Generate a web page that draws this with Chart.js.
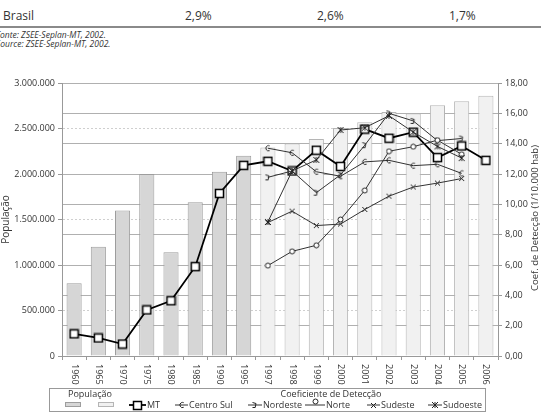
<!DOCTYPE html>
<html>
<head>
  <title>MT - População e Coeficiente de Detecção</title>
  <script src="https://cdn.jsdelivr.net/npm/chart.js"></script>
  <style>
    body {
      margin: 0;
      background: #fff;
      font-family: "Open Sans", sans-serif;
      color: #333;
    }
    .page {
      position: relative;
      width: 541px;
      height: 415px;
      overflow: hidden;
    }
    .head {
      position: absolute;
      top: 8px;
      font-size: 12px;
      line-height: 16px;
    }
    .rule {
      position: absolute;
      left: 0;
      top: 26px;
      width: 541px;
      height: 2px;
      background: #8a8a8a;
    }
    .fonte {
      position: absolute;
      left: -4px;
      font-size: 8.5px;
      font-style: italic;
      line-height: 10px;
    }
    .chart-box {
      position: absolute;
      left: 0;
      top: 0;
      width: 541px;
      height: 415px;
    }
  </style>
</head>
<body>
  <div class="page">
    <div class="head" style="left:3px">Brasil</div>
    <div class="head" style="left:185px">2,9%</div>
    <div class="head" style="left:317px">2,6%</div>
    <div class="head" style="left:449px">1,7%</div>
    <div class="rule"></div>
    <div class="fonte" style="top:30px">Fonte: ZSEE-Seplan-MT, 2002.</div>
    <div class="fonte" style="top:39px">Source: ZSEE-Seplan-MT, 2002.</div>
    <div class="chart-box"><canvas id="grafico"></canvas></div>
  </div>

  <script>
    const anos = ['1960', '1965', '1970', '1975', '1980', '1985', '1990', '1995', '1997', '1998',
                  '1999', '2000', '2001', '2002', '2003', '2004', '2005', '2006'];

    // população (eixo esquerdo)
    const popAntes = [800000, 1200000, 1600000, 2000000, 1140000, 1690000, 2025000, 2200000,
                      null, null, null, null, null, null, null, null, null, null];
    const popDepois = [null, null, null, null, null, null, null, null,
                       2290000, 2335000, 2385000, 2505000, 2570000, 2680000, 2665000, 2755000, 2800000, 2860000];

    // coeficiente de detecção (eixo direito)
    const coefMT = [1.46, 1.19, 0.79, 3.04, 3.64, 5.89, 10.72, 12.57, 12.84, 12.2,
                    13.57, 12.5, 14.96, 14.36, 14.76, 13.08, 13.85, 12.9];
    const coefCentroSul = [null, null, null, null, null, null, null, null,
                           13.7, 13.4, 12.15, 11.85, 12.8, 12.9, 12.55, 12.64, 12.04, null];
    const coefNordeste = [null, null, null, null, null, null, null, null,
                          11.78, 12.2, 10.77, 11.95, 13.9, 16.0, 15.5, 14.2, 14.34, null];
    const coefNorte = [null, null, null, null, null, null, null, null,
                       5.96, 6.9, 7.3, 9.0, 10.92, 13.5, 13.8, 14.23, 13.3, null];
    const coefSudeste = [null, null, null, null, null, null, null, null,
                         8.8, 9.55, 8.6, 8.7, 9.66, 10.54, 11.14, 11.4, 11.7, null];
    const coefSudoeste = [null, null, null, null, null, null, null, null,
                          8.84, 12.2, 12.93, 14.9, 15.05, 15.84, 14.76, 13.82, 13.05, null];

    const FONTE = '"Open Sans", sans-serif';

    // marcadores desenhados em pequenos canvas
    function marcador(w, h, desenha) {
      const c = document.createElement('canvas');
      c.width = w;
      c.height = h;
      const g = c.getContext('2d');
      g.strokeStyle = '#222';
      g.lineWidth = 1;
      desenha(g);
      return c;
    }

    const mkMT = marcador(11, 11, g => {
      g.fillStyle = '#fff';
      g.fillRect(1, 1, 9, 9);
      g.strokeStyle = '#000';
      g.lineWidth = 1.5;
      g.strokeRect(1.5, 1.5, 8, 8);
    });
    const mkCentroSul = marcador(8, 8, g => {
      g.beginPath();
      g.arc(4.5, 4, 2.6, Math.PI * 0.35, Math.PI * 1.65);
      g.stroke();
    });
    const mkNordeste = marcador(8, 8, g => {
      g.beginPath();
      g.moveTo(1.5, 1.5);
      g.lineTo(5, 2.5);
      g.lineTo(4.2, 6.5);
      g.lineTo(1.5, 6.5);
      g.stroke();
    });
    const mkNorte = marcador(7, 7, g => {
      g.beginPath();
      g.arc(3.5, 3.5, 2.5, 0, Math.PI * 2);
      g.fillStyle = '#fff';
      g.fill();
      g.stroke();
    });
    const mkSudeste = marcador(7, 7, g => {
      g.beginPath();
      g.moveTo(1, 1); g.lineTo(6, 6);
      g.moveTo(6, 1); g.lineTo(1, 6);
      g.stroke();
    });
    const mkSudoeste = marcador(8, 8, g => {
      g.beginPath();
      g.moveTo(1, 1); g.lineTo(7, 7);
      g.moveTo(7, 1); g.lineTo(1, 7);
      g.moveTo(4, 1); g.lineTo(4, 7);
      g.stroke();
    });

    function milhar(v) {
      return String(v).replace(/\B(?=(\d{3})+(?!\d))/g, '.');
    }

    function linha(label, data, ponto, cor, largura, ordem) {
      return {
        type: 'line',
        label: label,
        data: data,
        yAxisID: 'y1',
        borderColor: cor,
        borderWidth: largura,
        pointStyle: ponto,
        pointRadius: 3,
        pointHoverRadius: 3,
        fill: false,
        tension: 0,
        order: ordem
      };
    }

    // legenda, rótulos do eixo x e título do eixo direito
    const extras = {
      id: 'extras',
      afterDraw(chart) {
        const ctx = chart.ctx;
        const sx = chart.scales.x;
        ctx.save();
        ctx.fillStyle = '#333';

        // rótulos dos anos, girados para baixo
        ctx.font = '9px ' + FONTE;
        ctx.textAlign = 'left';
        ctx.textBaseline = 'middle';
        anos.forEach((a, i) => {
          ctx.save();
          ctx.translate(sx.getPixelForTick(i), 364);
          ctx.rotate(Math.PI / 2);
          ctx.fillText(a, 0, 0);
          ctx.restore();
        });

        // título do eixo direito
        ctx.save();
        ctx.font = '9.5px ' + FONTE;
        ctx.textAlign = 'center';
        ctx.translate(535, 218);
        ctx.rotate(-Math.PI / 2);
        ctx.fillText('Coef. de Detecção (1/10.000 hab)', 0, 0);
        ctx.restore();

        // caixa da legenda
        ctx.fillStyle = '#fff';
        ctx.fillRect(49, 388, 436, 23);
        ctx.strokeStyle = '#999';
        ctx.lineWidth = 1;
        ctx.strokeRect(49.5, 388.5, 436, 23);

        ctx.fillStyle = '#333';
        ctx.font = '9px ' + FONTE;
        ctx.textAlign = 'left';
        ctx.fillText('População', 68, 394);
        ctx.textAlign = 'center';
        ctx.fillText('Coeficiente de Detecção', 331, 394);

        const ds = chart.data.datasets;
        // amostras das barras
        [[ds[0], 65], [ds[1], 98]].forEach(([d, x]) => {
          ctx.fillStyle = d.backgroundColor;
          ctx.fillRect(x, 402, 16, 5);
          ctx.strokeStyle = d.borderColor;
          ctx.strokeRect(x + 0.5, 402.5, 15, 4);
        });

        // amostras das linhas
        const posicoes = [129, 175, 248, 305, 367, 428];
        const larguras = [17, 13, 14, 20, 13, 14];
        ctx.textAlign = 'left';
        ds.slice(2).forEach((d, i) => {
          const x0 = posicoes[i];
          const x1 = x0 + larguras[i];
          const y = 405;
          ctx.strokeStyle = d.borderColor;
          ctx.lineWidth = d.borderWidth;
          ctx.beginPath();
          ctx.moveTo(x0, y);
          ctx.lineTo(x1, y);
          ctx.stroke();
          const img = d.pointStyle;
          const cy = d.label === 'Norte' ? y - 4 : y;
          ctx.drawImage(img, Math.round((x0 + x1) / 2 - img.width / 2), Math.round(cy - img.height / 2));
          ctx.fillStyle = '#333';
          ctx.fillText(d.label, x1 + 1, y + 0.5);
        });

        ctx.restore();
      }
    };

    new Chart(document.getElementById('grafico'), {
      data: {
        labels: anos,
        datasets: [
          {
            type: 'bar',
            label: 'População',
            data: popAntes,
            yAxisID: 'y',
            backgroundColor: '#d6d6d6',
            borderColor: '#9d9d9d',
            borderWidth: 1,
            categoryPercentage: 0.8,
            barPercentage: 0.78,
            order: 20
          },
          {
            type: 'bar',
            label: 'População',
            data: popDepois,
            yAxisID: 'y',
            backgroundColor: '#f1f1f1',
            borderColor: '#b5b5b5',
            borderWidth: 1,
            categoryPercentage: 0.8,
            barPercentage: 0.78,
            order: 19
          },
          linha('MT', coefMT, mkMT, '#000', 1.8, 10),
          linha('Centro Sul', coefCentroSul, mkCentroSul, '#333', 1, 5),
          linha('Nordeste', coefNordeste, mkNordeste, '#333', 1, 4),
          linha('Norte', coefNorte, mkNorte, '#333', 1, 3),
          linha('Sudeste', coefSudeste, mkSudeste, '#333', 1, 2),
          linha('Sudoeste', coefSudoeste, mkSudoeste, '#333', 1, 1)
        ]
      },
      options: {
        responsive: true,
        maintainAspectRatio: false,
        animation: false,
        layout: { padding: { top: 83, left: 0, right: 0, bottom: 0 } },
        plugins: {
          legend: { display: false },
          tooltip: { enabled: false }
        },
        scales: {
          x: {
            stacked: true,
            afterFit: s => { s.height = 59; },
            ticks: { display: false },
            grid: { drawOnChartArea: false, color: '#999', tickLength: 4 },
            border: { color: '#999' }
          },
          y: {
            position: 'left',
            min: 0,
            max: 3000000,
            afterFit: s => { s.width = 62; },
            ticks: {
              stepSize: 500000,
              padding: 3,
              color: '#333',
              font: { family: FONTE, size: 9 },
              callback: v => milhar(v)
            },
            grid: { color: '#cfcfcf', tickColor: '#999', tickLength: 4 },
            border: { color: '#999', dash: [2, 2] },
            title: {
              display: true,
              text: 'População',
              color: '#333',
              padding: 0,
              font: { family: FONTE, size: 10 }
            }
          },
          y1: {
            position: 'right',
            min: 0,
            max: 18,
            afterFit: s => { s.width = 43; },
            ticks: {
              stepSize: 2,
              padding: 3,
              color: '#333',
              font: { family: FONTE, size: 9 },
              callback: v => v.toFixed(2).replace('.', ',')
            },
            grid: { color: '#b0b0b0', tickColor: '#999', tickLength: 4 },
            border: { color: '#999' }
          }
        }
      },
      plugins: [extras]
    });
  </script>
</body>
</html>
